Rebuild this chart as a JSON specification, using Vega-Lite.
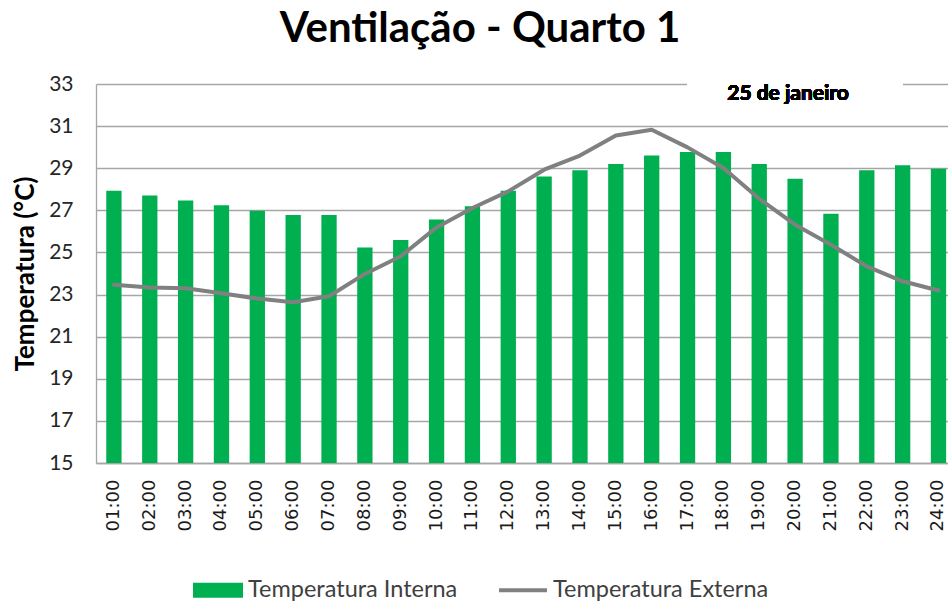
{
  "$schema": "https://vega.github.io/schema/vega-lite/v6.json",
  "autosize": {"type": "none"},
  "padding": {"left": 96, "top": 84, "right": 0, "bottom": 144},
  "width": 852,
  "height": 379,
  "background": "white",
  "title": {"text": "Ventilação - Quarto 1", "font": "Lato", "fontSize": 42, "fontWeight": "bold", "color": "black", "anchor": "middle", "dx": -42, "offset": 22},
  "config": {
    "view": {"stroke": null},
    "axis": {"gridColor": "#a6a6a6", "gridWidth": 1.3, "domainColor": "#a6a6a6", "domainWidth": 1.3, "ticks": false}
  },
  "data": {"values": [
    {"hour": "01:00", "interna": 27.93, "externa": 23.47},
    {"hour": "02:00", "interna": 27.70, "externa": 23.34},
    {"hour": "03:00", "interna": 27.47, "externa": 23.30},
    {"hour": "04:00", "interna": 27.24, "externa": 23.06},
    {"hour": "05:00", "interna": 26.98, "externa": 22.81},
    {"hour": "06:00", "interna": 26.78, "externa": 22.63},
    {"hour": "07:00", "interna": 26.78, "externa": 22.92},
    {"hour": "08:00", "interna": 25.24, "externa": 23.98},
    {"hour": "09:00", "interna": 25.59, "externa": 24.82},
    {"hour": "10:00", "interna": 26.56, "externa": 26.19},
    {"hour": "11:00", "interna": 27.19, "externa": 27.11},
    {"hour": "12:00", "interna": 27.93, "externa": 27.90},
    {"hour": "13:00", "interna": 28.61, "externa": 28.93},
    {"hour": "14:00", "interna": 28.90, "externa": 29.60},
    {"hour": "15:00", "interna": 29.20, "externa": 30.55},
    {"hour": "16:00", "interna": 29.60, "externa": 30.83},
    {"hour": "17:00", "interna": 29.77, "externa": 29.99},
    {"hour": "18:00", "interna": 29.77, "externa": 29.01},
    {"hour": "19:00", "interna": 29.20, "externa": 27.55},
    {"hour": "20:00", "interna": 28.50, "externa": 26.32},
    {"hour": "21:00", "interna": 26.84, "externa": 25.37},
    {"hour": "22:00", "interna": 28.90, "externa": 24.34},
    {"hour": "23:00", "interna": 29.14, "externa": 23.63},
    {"hour": "24:00", "interna": 28.98, "externa": 23.19}
  ]},
  "encoding": {
    "x": {"field": "hour", "type": "ordinal", "title": null,
      "scale": {"paddingInner": 0.573, "paddingOuter": 0.169, "align": 0.847},
      "axis": {"labelAngle": -90, "labelFont": "DejaVu Sans", "labelFontSize": 18, "labelColor": "#1a1a1a", "labelPadding": 16, "grid": false}}
  },
  "layer": [
    {
      "mark": {"type": "bar"},
      "encoding": {
        "y": {"field": "interna", "type": "quantitative", "title": "Temperatura (°C)",
          "scale": {"domain": [15, 33], "nice": false, "zero": false},
          "axis": {"values": [15, 17, 19, 21, 23, 25, 27, 29, 31, 33], "labelFont": "Lato", "labelFontSize": 21, "labelColor": "#262626", "labelPadding": 23,
            "titleFont": "Lato", "titleFontSize": 26, "titleFontWeight": "bold", "titleColor": "black", "titlePadding": 10, "grid": true}},
        "y2": {"datum": 15},
        "color": {"datum": "Temperatura Interna",
          "scale": {"domain": ["Temperatura Interna", "Temperatura Externa"], "range": ["#00B050", "#808080"]},
          "legend": {"title": null, "orient": "none", "legendX": 97, "legendY": 481, "direction": "horizontal", "columns": 2,
            "columnPadding": 40, "labelFont": "Lato", "labelFontSize": 23.5, "labelColor": "#404040", "labelOffset": 5, "labelLimit": 400,
            "symbolSize": 2500, "symbolStrokeWidth": 0,
            "encode": {"symbols": {"update": {
              "shape": {"signal": "datum.value === 'Temperatura Interna' ? 'M-1,-0.3H1V0.3H-1Z' : 'M-0.96,-0.08H0.96V0.08H-0.96Z'"},
              "fill": {"signal": "datum.value === 'Temperatura Interna' ? '#00B050' : '#808080'"},
              "strokeWidth": {"value": 0}
            }}}}}
      }
    },
    {
      "mark": {"type": "line", "strokeWidth": 4, "strokeJoin": "round", "strokeCap": "round"},
      "encoding": {
        "y": {"field": "externa", "type": "quantitative"},
        "color": {"datum": "Temperatura Externa"}
      }
    },
    {
      "mark": {"type": "rule", "color": "white", "strokeWidth": 4},
      "encoding": {
        "x": {"datum": "17:00", "type": "ordinal"},
        "x2": {"datum": "23:00"},
        "y": {"datum": 33, "type": "quantitative"}
      }
    },
    {
      "mark": {"type": "text", "text": "25 de janeiro", "font": "Lato", "fontSize": 21, "fontWeight": "bold", "fill": "black", "baseline": "middle", "dx": -7},
      "encoding": {
        "x": {"datum": "20:00", "type": "ordinal"},
        "y": {"datum": 32.52, "type": "quantitative"}
      }
    }
  ]
}
